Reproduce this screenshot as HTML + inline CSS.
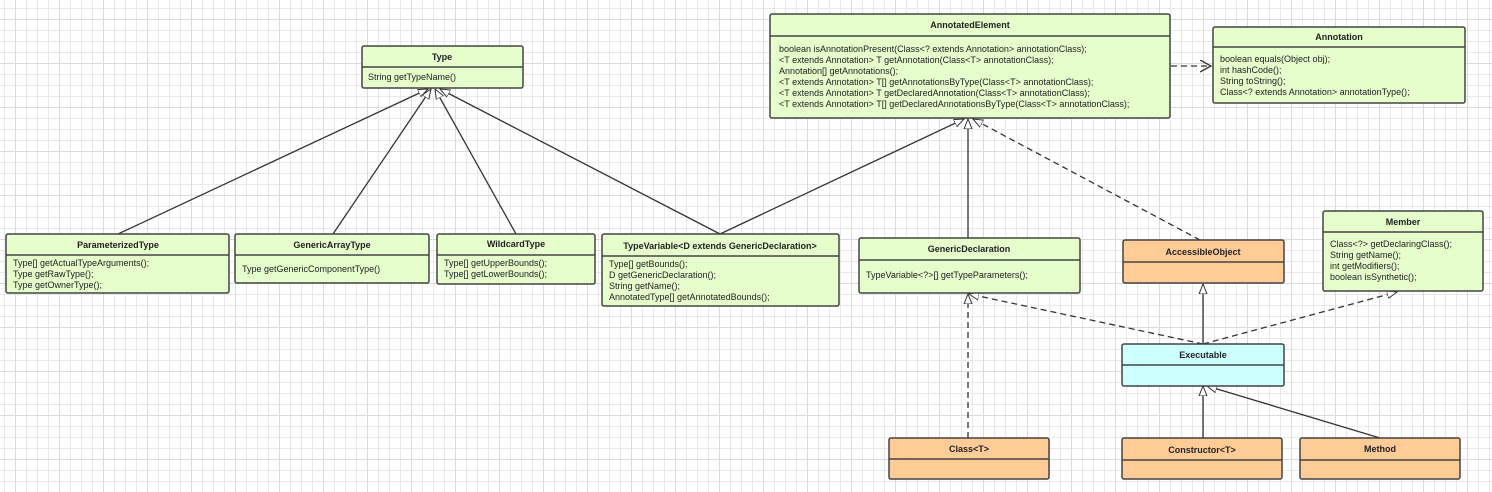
<!DOCTYPE html>
<html><head><meta charset="utf-8"><style>
html,body{margin:0;padding:0;background:#fff}
svg{display:block}
text{font-family:"Liberation Sans",sans-serif;font-size:9px;fill:#222}
.t{font-weight:bold;text-anchor:middle}
.b{stroke:#444;stroke-width:1.5}
.g{fill:#e6fdcc}.o{fill:#ffcb96}.c{fill:#ccffff}
.l{stroke:#333;stroke-width:1.3;fill:none}
.d{stroke-dasharray:6,4}
</style></head><body>
<svg width="1492" height="492" viewBox="0 0 1492 492" xmlns="http://www.w3.org/2000/svg">
<defs>
<pattern id="minor" x="4" y="8" width="11" height="11" patternUnits="userSpaceOnUse"><path d="M0 0.5H11M0.5 0V11" stroke="#e9e9e9" stroke-width="1" fill="none"/></pattern>
<pattern id="major" x="15" y="19" width="44" height="44" patternUnits="userSpaceOnUse"><path d="M0 0.5H44M0.5 0V44" stroke="#dadada" stroke-width="1" fill="none"/></pattern>
<marker id="tri" markerWidth="12" markerHeight="12" refX="10" refY="5" orient="auto" markerUnits="userSpaceOnUse"><path d="M0,1 L10,5 L0,9 Z" fill="#fff" stroke="#333" stroke-width="1"/></marker>
<marker id="arr" markerWidth="14" markerHeight="14" refX="11" refY="6" orient="auto" markerUnits="userSpaceOnUse"><path d="M0,0 L11,6 L0,12" fill="none" stroke="#333" stroke-width="1.3"/></marker>
</defs>
<rect width="1492" height="492" fill="url(#minor)"/>
<rect width="1492" height="492" fill="url(#major)"/>

<line class="l" x1="118" y1="234" x2="428" y2="89" marker-end="url(#tri)"/>
<line class="l" x1="333" y1="234" x2="431" y2="89" marker-end="url(#tri)"/>
<line class="l" x1="516" y1="234" x2="435" y2="89" marker-end="url(#tri)"/>
<line class="l" x1="720" y1="234" x2="440" y2="89" marker-end="url(#tri)"/>
<line class="l" x1="720" y1="234" x2="964" y2="119" marker-end="url(#tri)"/>
<line class="l" x1="968" y1="238" x2="968" y2="119" marker-end="url(#tri)"/>
<line class="l d" x1="1200" y1="240" x2="973" y2="119" marker-end="url(#tri)"/>
<line class="l d" x1="1171" y1="66" x2="1211" y2="66" marker-end="url(#arr)"/>
<line class="l" x1="1203" y1="344" x2="1203" y2="284" marker-end="url(#tri)"/>
<line class="l d" x1="1203" y1="344" x2="969" y2="294" marker-end="url(#tri)"/>
<line class="l d" x1="1203" y1="344" x2="1397" y2="292" marker-end="url(#tri)"/>
<line class="l d" x1="968" y1="438" x2="968" y2="294" marker-end="url(#tri)"/>
<line class="l" x1="1203" y1="438" x2="1203" y2="386" marker-end="url(#tri)"/>
<line class="l" x1="1380" y1="438" x2="1207" y2="386" marker-end="url(#tri)"/>

<rect class="b g" x="362" y="46" width="161" height="42" rx="2"/>
<line class="b" x1="362" y1="67" x2="523" y2="67"/>
<text class="t" x="442" y="60">Type</text>
<text x="368" y="80">String getTypeName()</text>

<rect class="b g" x="770" y="14" width="400" height="104" rx="2"/>
<line class="b" x1="770" y1="36" x2="1170" y2="36"/>
<text class="t" x="970" y="28">AnnotatedElement</text>
<text x="779" y="52">boolean isAnnotationPresent(Class&lt;? extends Annotation&gt; annotationClass);</text>
<text x="779" y="63">&lt;T extends Annotation&gt; T getAnnotation(Class&lt;T&gt; annotationClass);</text>
<text x="779" y="74">Annotation[] getAnnotations();</text>
<text x="779" y="85">&lt;T extends Annotation&gt; T[] getAnnotationsByType(Class&lt;T&gt; annotationClass);</text>
<text x="779" y="96">&lt;T extends Annotation&gt; T getDeclaredAnnotation(Class&lt;T&gt; annotationClass);</text>
<text x="779" y="107">&lt;T extends Annotation&gt; T[] getDeclaredAnnotationsByType(Class&lt;T&gt; annotationClass);</text>

<rect class="b g" x="1213" y="27" width="252" height="76" rx="2"/>
<line class="b" x1="1213" y1="47" x2="1465" y2="47"/>
<text class="t" x="1339" y="40">Annotation</text>
<text x="1220" y="62">boolean equals(Object obj);</text>
<text x="1220" y="73">int hashCode();</text>
<text x="1220" y="84">String toString();</text>
<text x="1220" y="95">Class&lt;? extends Annotation&gt; annotationType();</text>

<rect class="b g" x="6" y="234" width="223" height="59" rx="2"/>
<line class="b" x1="6" y1="255" x2="229" y2="255"/>
<text class="t" x="118" y="248">ParameterizedType</text>
<text x="13" y="266">Type[] getActualTypeArguments();</text>
<text x="13" y="277">Type getRawType();</text>
<text x="13" y="288">Type getOwnerType();</text>

<rect class="b g" x="235" y="234" width="194" height="49" rx="2"/>
<line class="b" x1="235" y1="255" x2="429" y2="255"/>
<text class="t" x="332" y="248">GenericArrayType</text>
<text x="242" y="272">Type getGenericComponentType()</text>

<rect class="b g" x="437" y="234" width="158" height="50" rx="2"/>
<line class="b" x1="437" y1="255" x2="595" y2="255"/>
<text class="t" x="516" y="247">WildcardType</text>
<text x="444" y="266">Type[] getUpperBounds();</text>
<text x="444" y="277">Type[] getLowerBounds();</text>

<rect class="b g" x="602" y="234" width="237" height="72" rx="2"/>
<line class="b" x1="602" y1="256" x2="839" y2="256"/>
<text class="t" x="720" y="249">TypeVariable&lt;D extends GenericDeclaration&gt;</text>
<text x="609" y="267">Type[] getBounds();</text>
<text x="609" y="278">D getGenericDeclaration();</text>
<text x="609" y="289">String getName();</text>
<text x="609" y="300">AnnotatedType[] getAnnotatedBounds();</text>

<rect class="b g" x="859" y="238" width="221" height="55" rx="2"/>
<line class="b" x1="859" y1="260" x2="1080" y2="260"/>
<text class="t" x="969" y="252">GenericDeclaration</text>
<text x="866" y="278">TypeVariable&lt;?&gt;[] getTypeParameters();</text>

<rect class="b o" x="1123" y="240" width="161" height="43" rx="2"/>
<line class="b" x1="1123" y1="262" x2="1284" y2="262"/>
<text class="t" x="1203" y="255">AccessibleObject</text>

<rect class="b g" x="1323" y="211" width="160" height="80" rx="2"/>
<line class="b" x1="1323" y1="232" x2="1483" y2="232"/>
<text class="t" x="1403" y="225">Member</text>
<text x="1330" y="247">Class&lt;?&gt; getDeclaringClass();</text>
<text x="1330" y="258">String getName();</text>
<text x="1330" y="269">int getModifiers();</text>
<text x="1330" y="280">boolean isSynthetic();</text>

<rect class="b c" x="1122" y="344" width="162" height="42" rx="2"/>
<line class="b" x1="1122" y1="365" x2="1284" y2="365"/>
<text class="t" x="1203" y="358">Executable</text>

<rect class="b o" x="889" y="438" width="160" height="41" rx="2"/>
<line class="b" x1="889" y1="459" x2="1049" y2="459"/>
<text class="t" x="969" y="452">Class&lt;T&gt;</text>

<rect class="b o" x="1122" y="438" width="160" height="41" rx="2"/>
<line class="b" x1="1122" y1="460" x2="1282" y2="460"/>
<text class="t" x="1202" y="453">Constructor&lt;T&gt;</text>

<rect class="b o" x="1300" y="438" width="160" height="41" rx="2"/>
<line class="b" x1="1300" y1="460" x2="1460" y2="460"/>
<text class="t" x="1380" y="452">Method</text>
</svg>
</body></html>
